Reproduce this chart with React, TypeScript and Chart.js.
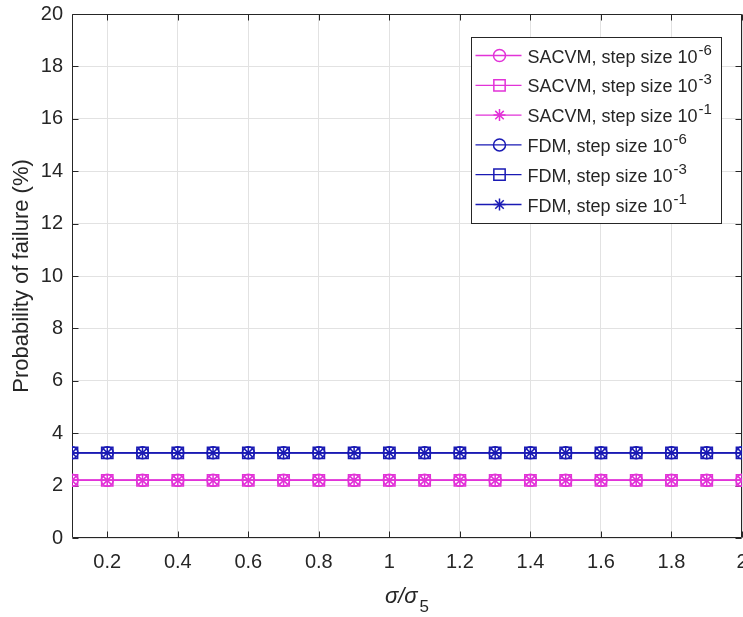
import React, { useEffect, useRef } from 'react';
import { Chart, registerables } from 'chart.js';
import { drawPoint } from 'chart.js/helpers';

Chart.register(...registerables);

// ---- data ----
const xValues = [0.1, 0.2, 0.3, 0.4, 0.5, 0.6, 0.7, 0.8, 0.9, 1.0, 1.1, 1.2, 1.3, 1.4, 1.5, 1.6, 1.7, 1.8, 1.9, 2.0];
const sacvmStep6 = [2.2, 2.2, 2.2, 2.2, 2.2, 2.2, 2.2, 2.2, 2.2, 2.2, 2.2, 2.2, 2.2, 2.2, 2.2, 2.2, 2.2, 2.2, 2.2, 2.2];
const sacvmStep3 = [2.2, 2.2, 2.2, 2.2, 2.2, 2.2, 2.2, 2.2, 2.2, 2.2, 2.2, 2.2, 2.2, 2.2, 2.2, 2.2, 2.2, 2.2, 2.2, 2.2];
const sacvmStep1 = [2.2, 2.2, 2.2, 2.2, 2.2, 2.2, 2.2, 2.2, 2.2, 2.2, 2.2, 2.2, 2.2, 2.2, 2.2, 2.2, 2.2, 2.2, 2.2, 2.2];
const fdmStep6 = [3.25, 3.25, 3.25, 3.25, 3.25, 3.25, 3.25, 3.25, 3.25, 3.25, 3.25, 3.25, 3.25, 3.25, 3.25, 3.25, 3.25, 3.25, 3.25, 3.25];
const fdmStep3 = [3.25, 3.25, 3.25, 3.25, 3.25, 3.25, 3.25, 3.25, 3.25, 3.25, 3.25, 3.25, 3.25, 3.25, 3.25, 3.25, 3.25, 3.25, 3.25, 3.25];
const fdmStep1 = [3.25, 3.25, 3.25, 3.25, 3.25, 3.25, 3.25, 3.25, 3.25, 3.25, 3.25, 3.25, 3.25, 3.25, 3.25, 3.25, 3.25, 3.25, 3.25, 3.25];
const seriesLabels = [
  'SACVM, step size 10^-6',
  'SACVM, step size 10^-3',
  'SACVM, step size 10^-1',
  'FDM, step size 10^-6',
  'FDM, step size 10^-3',
  'FDM, step size 10^-1',
];
const xTickValues = [0.2, 0.4, 0.6, 0.8, 1, 1.2, 1.4, 1.6, 1.8, 2];
const yTickValues = [0, 2, 4, 6, 8, 10, 12, 14, 16, 18, 20];
const yAxisTitle = 'Probability of failure (%)';
const xAxisTitleMain = 'σ/σ';
const xAxisTitleSub = '5';

const MAGENTA = '#e233d8';
const BLUE = '#1a1ab4';
const AXIS = '#262626';
const GRID = '#e2e2e2';
const FONT = '"Liberation Sans", Arial, Helvetica, sans-serif';

const seriesValues = [sacvmStep6, sacvmStep3, sacvmStep1, fdmStep6, fdmStep3, fdmStep1];
const seriesColors = [MAGENTA, MAGENTA, MAGENTA, BLUE, BLUE, BLUE];
const seriesMarkers = ['circle', 'rect', 'star', 'circle', 'rect', 'star'];
const markerRadius: Record<string, number> = { circle: 6, rect: 8, star: 6 };

const framePlugin = {
  id: 'frame',
  beforeDatasetsDraw(chart: any) {
    const { ctx, chartArea: a, scales } = chart;
    ctx.save();
    ctx.strokeStyle = AXIS;
    ctx.lineWidth = 1;
    const L = Math.round(a.left) + 0.5;
    const R = Math.round(a.right) - 0.5;
    const T = Math.round(a.top) + 0.5;
    const B = Math.round(a.bottom) - 0.5;
    ctx.beginPath();
    ctx.moveTo(L, T); ctx.lineTo(R, T); ctx.lineTo(R, B); ctx.lineTo(L, B); ctx.closePath();
    ctx.stroke();
    const tl = 6;
    ctx.beginPath();
    for (const v of xTickValues) {
      const px = Math.round(scales.x.getPixelForValue(v)) + 0.5;
      ctx.moveTo(px, B); ctx.lineTo(px, B - tl);
      ctx.moveTo(px, T); ctx.lineTo(px, T + tl);
    }
    for (const v of yTickValues) {
      const py = Math.round(scales.y.getPixelForValue(v)) + 0.5;
      ctx.moveTo(L, py); ctx.lineTo(L + tl, py);
      ctx.moveTo(R, py); ctx.lineTo(R - tl, py);
    }
    ctx.stroke();
    ctx.restore();
  },
};

const legendPlugin = {
  id: 'insideLegend',
  afterDraw(chart: any) {
    const { ctx, chartArea: a } = chart;
    const w = 250;
    const h = 186;
    const x0 = Math.round(a.right - 21 - w) + 0.5;
    const y0 = Math.round(a.top + 23) + 0.5;
    ctx.save();
    ctx.fillStyle = '#ffffff';
    ctx.fillRect(x0, y0, w, h);
    ctx.strokeStyle = AXIS;
    ctx.lineWidth = 1;
    ctx.strokeRect(x0, y0, w, h);
    chart.data.datasets.forEach((ds: any, i: number) => {
      const cy = y0 + 18 + i * 29.8;
      ctx.strokeStyle = ds.borderColor;
      ctx.lineWidth = 1.3;
      ctx.beginPath();
      ctx.moveTo(x0 + 4, cy);
      ctx.lineTo(x0 + 50, cy);
      ctx.stroke();
      ctx.lineWidth = 1.5;
      ctx.strokeStyle = ds.borderColor;
      ctx.fillStyle = 'rgba(0,0,0,0)';
      drawPoint(ctx, { pointStyle: ds.pointStyle, radius: ds.pointRadius, borderWidth: 1.5, rotation: 0 } as any, x0 + 28, cy);
      const [base, exp] = String(ds.label).split('^');
      ctx.fillStyle = AXIS;
      ctx.textBaseline = 'alphabetic';
      ctx.textAlign = 'left';
      ctx.font = `18px ${FONT}`;
      const tx = x0 + 56;
      const by = cy + 7;
      ctx.fillText(base, tx, by);
      const bw = ctx.measureText(base).width;
      if (exp) {
        ctx.font = `15px ${FONT}`;
        ctx.fillText(exp, tx + bw + 1, by - 8);
      }
    });
    ctx.restore();

    // x axis title with subscript
    ctx.save();
    ctx.fillStyle = AXIS;
    ctx.textBaseline = 'alphabetic';
    ctx.textAlign = 'left';
    ctx.font = `italic 22px ${FONT}`;
    const mw = ctx.measureText(xAxisTitleMain).width;
    ctx.font = `17px ${FONT}`;
    const sw = ctx.measureText(xAxisTitleSub).width;
    const cx = (a.left + a.right) / 2;
    const sx = cx - (mw + sw + 2) / 2;
    const baseY = a.bottom + 65;
    ctx.font = `italic 22px ${FONT}`;
    ctx.fillText(xAxisTitleMain, sx, baseY);
    ctx.font = `17px ${FONT}`;
    ctx.fillText(xAxisTitleSub, sx + mw + 2, baseY + 9);
    ctx.restore();
  },
};

export default function App() {
  const ref = useRef<HTMLCanvasElement>(null);
  useEffect(() => {
    document.body.style.margin = '0';
    const datasets = seriesValues.map((vals, i) => ({
      label: seriesLabels[i],
      data: xValues.map((x, j) => ({ x, y: vals[j] })),
      borderColor: seriesColors[i],
      backgroundColor: seriesColors[i],
      borderWidth: 1.5,
      pointStyle: seriesMarkers[i],
      pointRadius: markerRadius[seriesMarkers[i]],
      pointBorderWidth: 1.5,
      pointBorderColor: seriesColors[i],
      pointBackgroundColor: 'rgba(0,0,0,0)',
      fill: false,
      tension: 0,
    }));
    const chart = new Chart(ref.current as HTMLCanvasElement, {
      type: 'line',
      data: { datasets },
      options: {
        responsive: false,
        animation: false,
        devicePixelRatio: 1,
        layout: { autoPadding: false, padding: { left: 0, right: 1, top: 14, bottom: 0 } },
        plugins: { legend: { display: false }, tooltip: { enabled: false } },
        scales: {
          x: {
            type: 'linear',
            min: 0.1,
            max: 2,
            afterBuildTicks: (scale: any) => {
              scale.ticks = xTickValues.map((v) => ({ value: v }));
            },
            afterFit: (scale: any) => {
              scale.height = 79;
              scale.paddingLeft = 0;
              scale.paddingRight = 0;
            },
            grid: { color: GRID, drawTicks: false, lineWidth: 1 },
            border: { display: false },
            ticks: {
              autoSkip: false,
              maxRotation: 0,
              padding: 12,
              color: AXIS,
              font: { family: FONT, size: 20 },
              callback: (v: any) => String(v),
            },
          },
          y: {
            type: 'linear',
            min: 0,
            max: 20,
            afterBuildTicks: (scale: any) => {
              scale.ticks = yTickValues.map((v) => ({ value: v }));
            },
            afterFit: (scale: any) => {
              scale.width = 72;
              scale.paddingTop = 0;
              scale.paddingBottom = 0;
            },
            grid: { color: GRID, drawTicks: false, lineWidth: 1 },
            border: { display: false },
            ticks: {
              padding: 9,
              color: AXIS,
              font: { family: FONT, size: 20 },
              callback: (v: any) => String(v),
            },
            title: {
              display: true,
              text: yAxisTitle,
              color: AXIS,
              font: { family: FONT, size: 22 },
              padding: { top: 9, bottom: 0 },
            },
          },
        },
      },
      plugins: [framePlugin, legendPlugin],
    } as any);
    return () => chart.destroy();
  }, []);
  return (
    <div style={{ width: 743, height: 617 }}>
      <canvas ref={ref} width={743} height={617} style={{ display: 'block', width: '743px', height: '617px' }} />
    </div>
  );
}
